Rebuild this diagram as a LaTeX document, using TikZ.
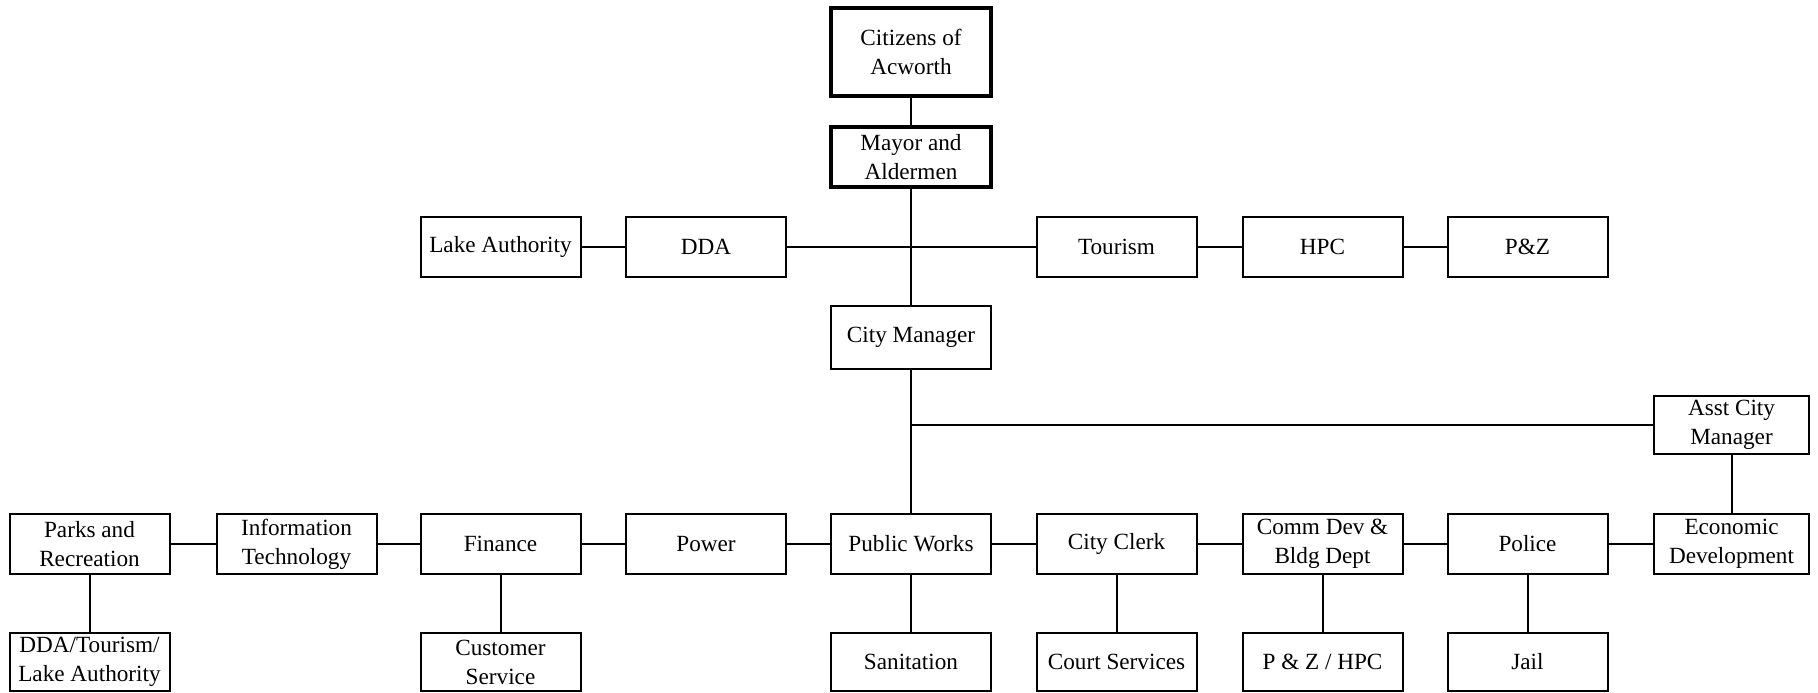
\documentclass[tikz,border=0pt]{standalone}
\usepackage{fontspec}
\setmainfont{Liberation Serif}
\begin{document}
\begin{tikzpicture}[x=0.5pt,y=-0.5pt,
  box/.style={draw,line width=1pt,minimum width=80pt,minimum height=30pt,inner sep=0pt,align=center,
    font=\fontsize{11.6pt}{14.5pt}\selectfont},
  thickbox/.style={box,line width=2pt},
  conn/.style={line width=1pt}]
\useasboundingbox (0,0) rectangle (1818,692);
% top
\node[thickbox,minimum height=44pt] (cit) at (911,52) {Citizens of\\Acworth};
\node[thickbox] (mayor) at (911,157) {Mayor and\\Aldermen};
% row 2
\node[box] (lake) at (500.5,247) {Lake Authority};
\node[box] (dda) at (706,247) {DDA};
\node[box] (tour) at (1116.5,247) {Tourism};
\node[box] (hpc) at (1322.5,247) {HPC};
\node[box] (pz) at (1527.5,247) {P\&Z};
% city manager
\node[box,minimum height=31.5pt] (cm) at (911,337.5) {City Manager};
\node[box,minimum width=77.5pt,minimum height=29pt] (asst) at (1731.5,425) {Asst City\\Manager};
% row 4
\node[box] (parks) at (89.5,544) {Parks and\\Recreation};
\node[box] (it) at (296.5,544) {Information\\Technology};
\node[box] (fin) at (500.5,544) {Finance};
\node[box] (power) at (706,544) {Power};
\node[box] (pw) at (911,544) {Public Works};
\node[box] (clerk) at (1116.5,544) {City Clerk};
\node[box] (comm) at (1322.5,544) {Comm Dev \&\\Bldg Dept};
\node[box] (police) at (1527.5,544) {Police};
\node[box,minimum width=77.5pt] (econ) at (1731.5,544) {Economic\\Development};
% bottom row
\node[box,minimum height=29pt] (ddat) at (89.5,662) {DDA/Tourism/\\Lake Authority};
\node[box,minimum height=29pt] (cs) at (500.5,662) {Customer\\Service};
\node[box,minimum height=29pt] (san) at (911,662) {Sanitation};
\node[box,minimum height=29pt] (court) at (1116.5,662) {Court Services};
\node[box,minimum height=29pt] (pzh) at (1322.5,662) {P \& Z / HPC};
\node[box,minimum height=29pt] (jail) at (1527.5,662) {Jail};
% connectors
\coordinate (j1) at (911,425);
\draw[conn] (cit) -- (mayor);
\draw[conn] (mayor) -- (cm);
\draw[conn] (lake) -- (dda);
\draw[conn] (dda) -- (tour);
\draw[conn] (tour) -- (hpc);
\draw[conn] (hpc) -- (pz);
\draw[conn] (cm) -- (pw);
\draw[conn] (j1) -- (asst.west);
\draw[conn] (asst) -- (econ);
\draw[conn] (parks) -- (it);
\draw[conn] (it) -- (fin);
\draw[conn] (fin) -- (power);
\draw[conn] (power) -- (pw);
\draw[conn] (pw) -- (clerk);
\draw[conn] (clerk) -- (comm);
\draw[conn] (comm) -- (police);
\draw[conn] (police) -- (econ);
\draw[conn] (parks) -- (ddat);
\draw[conn] (fin) -- (cs);
\draw[conn] (pw) -- (san);
\draw[conn] (clerk) -- (court);
\draw[conn] (comm) -- (pzh);
\draw[conn] (police) -- (jail);
\end{tikzpicture}
\end{document}
